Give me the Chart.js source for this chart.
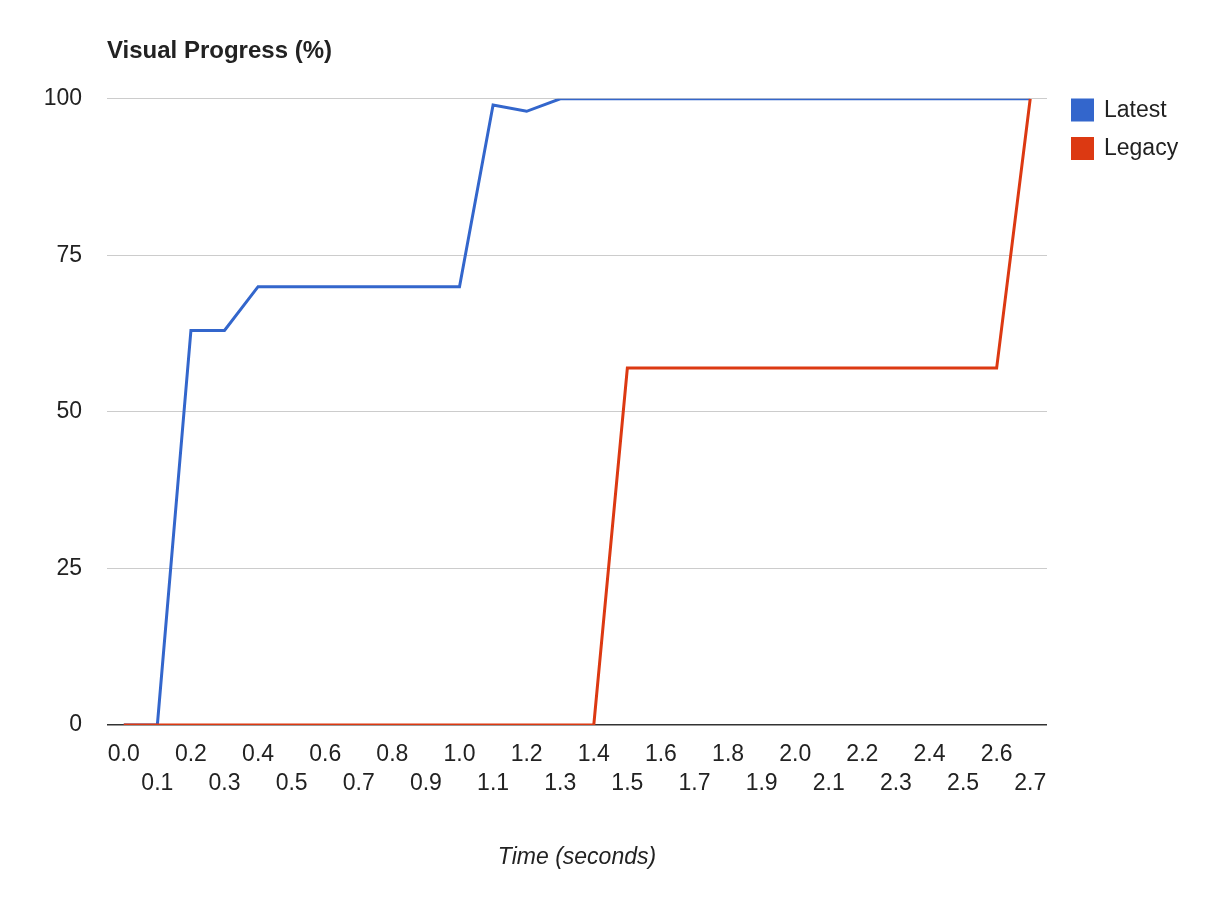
<!DOCTYPE html>
<html>
<head>
<meta charset="utf-8">
<script src="https://cdn.jsdelivr.net/npm/chart.js@4/dist/chart.umd.min.js"></script>
<style>
  html, body { margin: 0; padding: 0; background: #fff; }
  #wrap { width: 1213px; height: 900px; position: relative; }
</style>
</head>
<body>
<div id="wrap"><canvas id="c"></canvas></div>
<script>
const timeLabels = ['0.0','0.1','0.2','0.3','0.4','0.5','0.6','0.7','0.8','0.9','1.0','1.1','1.2','1.3','1.4','1.5','1.6','1.7','1.8','1.9','2.0','2.1','2.2','2.3','2.4','2.5','2.6','2.7'];
const latestValues = [0,0,63,63,70,70,70,70,70,70,70,99,98,100,100,100,100,100,100,100,100,100,100,100,100,100,100,100];
const legacyValues = [0,0,0,0,0,0,0,0,0,0,0,0,0,0,0,57,57,57,57,57,57,57,57,57,57,57,57,100];
const yTicks = [0,25,50,75,100];
const seriesNames = ['Latest','Legacy'];
const seriesColors = ['#3366cc','#dc3912'];
const chartTitle = 'Visual Progress (%)';
const xTitle = 'Time (seconds)';

const FONT = "Arial, 'Liberation Sans', Helvetica, sans-serif";

const legendPlugin = {
  id: 'customLegend',
  afterDraw(chart) {
    const ctx = chart.ctx;
    ctx.save();
    chart.data.datasets.forEach((ds, i) => {
      const y = 98.5 + i * 38.5;
      ctx.fillStyle = ds.borderColor;
      ctx.fillRect(1071, y, 23, 23);
      ctx.fillStyle = '#222';
      ctx.font = '23px ' + FONT;
      ctx.textBaseline = 'middle';
      ctx.textAlign = 'left';
      ctx.fillText(ds.label, 1104, y + 12);
    });
    ctx.restore();
  }
};

new Chart(document.getElementById('c'), {
  type: 'line',
  data: {
    labels: timeLabels,
    datasets: [
      { label: seriesNames[0], data: latestValues, borderColor: seriesColors[0], backgroundColor: seriesColors[0], borderWidth: 3, pointRadius: 0, tension: 0, fill: false, order: 1 },
      { label: seriesNames[1], data: legacyValues, borderColor: seriesColors[1], backgroundColor: seriesColors[1], borderWidth: 3, pointRadius: 0, tension: 0, fill: false, order: 0 }
    ]
  },
  options: {
    responsive: true,
    maintainAspectRatio: false,
    animation: false,
    layout: { padding: { left: 0, right: 166, top: 0, bottom: 0 } },
    plugins: {
      legend: { display: false },
      tooltip: { enabled: false },
      title: {
        display: true,
        text: chartTitle,
        align: 'start',
        fullSize: false,
        color: '#222',
        font: { family: FONT, size: 24, weight: 'bold', lineHeight: 1.2 },
        padding: { top: 37, bottom: 33 }
      }
    },
    scales: {
      x: {
        type: 'category',
        offset: true,
        grid: { display: false, drawTicks: false },
        border: { display: false },
        ticks: {
          autoSkip: false,
          maxRotation: 0,
          minRotation: 0,
          padding: 15,
          color: '#222',
          font: { family: FONT, size: 23, lineHeight: 29/23 },
          callback: function(value, index) {
            const lbl = this.getLabelForValue(value);
            return index % 2 === 0 ? lbl : ['', lbl];
          }
        },
        title: {
          display: true,
          text: xTitle,
          color: '#222',
          font: { family: FONT, size: 23, style: 'italic', lineHeight: 1.2 },
          padding: { top: 10, bottom: 29 }
        },
        afterFit(scale) { scale.height = 175; }
      },
      y: {
        min: 0,
        max: 100,
        afterBuildTicks(scale) { scale.ticks = yTicks.map(v => ({ value: v })); },
        grid: {
          drawTicks: false,
          color: (c) => (c.tick && c.tick.value === 0) ? '#333' : '#ccc',
          lineWidth: (c) => (c.tick && c.tick.value === 0) ? 1.5 : 1
        },
        border: { display: false },
        ticks: {
          padding: 25,
          color: '#222',
          font: { family: FONT, size: 23 }
        },
        afterFit(scale) { scale.width = 107; }
      }
    }
  },
  plugins: [legendPlugin]
});
</script>
</body>
</html>
